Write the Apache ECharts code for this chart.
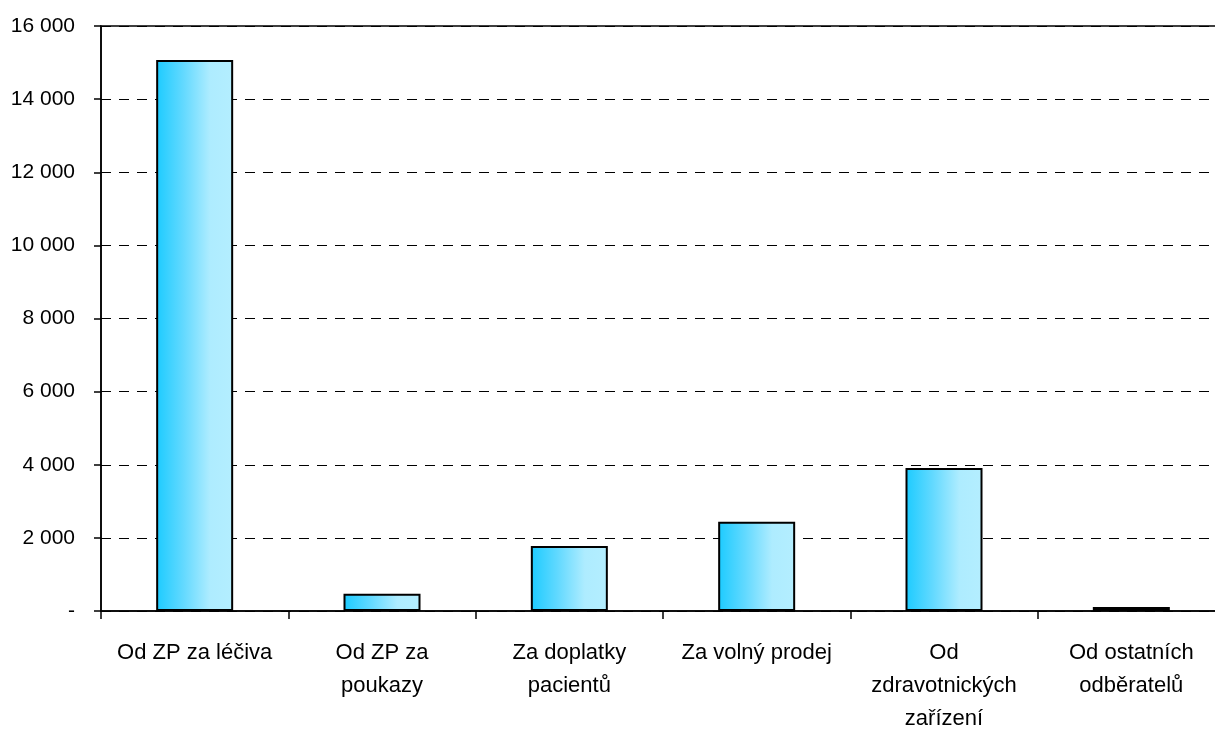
<!DOCTYPE html>
<html>
<head>
<meta charset="utf-8">
<script src="https://cdn.jsdelivr.net/npm/echarts@6/dist/echarts.min.js"></script>
<style>html,body{margin:0;padding:0;background:#fff}#c{width:1215px;height:733px}</style>
</head>
<body>
<div id="c"></div>
<script>
var categories = ["Od ZP za léčiva", "Od ZP za\npoukazy", "Za doplatky\npacientů", "Za volný prodej", "Od\nzdravotnických\nzařízení", "Od ostatních\nodběratelů"];
var values = [15070, 470, 1780, 2440, 3910, 110];
var yTicks = { min: 0, max: 16000, interval: 2000 };

var FONT = "'Liberation Sans', Arial, sans-serif";
var chart = echarts.init(document.getElementById('c'));
chart.setOption({
  animation: false,
  backgroundColor: '#fff',
  grid: { left: 101, top: 26, width: 1124, height: 585, outerBoundsMode: 'none', containLabel: false, show: true, borderColor: '#000', borderWidth: 1.5, backgroundColor: 'transparent' },
  xAxis: {
    type: 'category',
    data: categories,
    axisLine: { lineStyle: { color: '#000', width: 1.5 } },
    axisTick: { show: true, length: 8, lineStyle: { color: '#000', width: 1.5 } },
    axisLabel: { color: '#000', fontFamily: FONT, fontSize: 22, lineHeight: 33, margin: 25, interval: 0 }
  },
  yAxis: {
    type: 'value',
    min: yTicks.min, max: yTicks.max, interval: yTicks.interval,
    axisLine: { show: true, lineStyle: { color: '#000', width: 1.5 } },
    axisTick: { show: true, length: 7, lineStyle: { color: '#000', width: 1.5 } },
    axisLabel: {
      color: '#000', fontFamily: FONT, fontSize: 21, margin: 26,
      formatter: function (v) { return v === 0 ? '-' : String(v).replace(/\B(?=(\d{3})+(?!\d))/g, ' '); }
    },
    splitLine: { show: true, lineStyle: { color: '#000', width: 1, type: [10, 8] } }
  },
  series: [{
    type: 'bar',
    data: values,
    barWidth: 77,
    itemStyle: {
      borderColor: '#000', borderWidth: 2,
      color: new echarts.graphic.LinearGradient(0, 0, 1, 0, [
        { offset: 0, color: '#1ccbff' },
        { offset: 0.35, color: '#62d9ff' },
        { offset: 0.7, color: '#aeecff' },
        { offset: 1, color: '#b4eeff' }
      ])
    }
  }]
});
</script>
</body>
</html>
